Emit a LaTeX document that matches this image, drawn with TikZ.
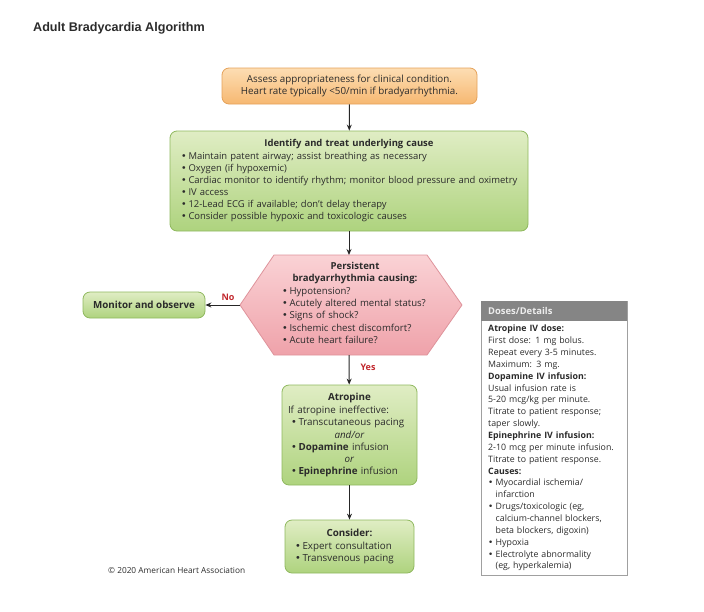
\documentclass[tikz,border=0pt]{standalone}
\usepackage{fontspec}
\setmainfont{Open Sans}
\newfontfamily\titlefont{Liberation Sans}
\newfontfamily\bulfont{DejaVu Sans}
\usetikzlibrary{arrows.meta}
\setlength{\parindent}{0pt}
\definecolor{txt}{HTML}{2B2B2B}
\definecolor{grtop}{HTML}{E0EDC4}
\definecolor{grbot}{HTML}{AED37E}
\definecolor{grline}{HTML}{8FB85E}
\definecolor{ortop}{HTML}{FDDDB3}
\definecolor{orbot}{HTML}{F6B871}
\definecolor{orline}{HTML}{E5A25A}
\definecolor{pktop}{HTML}{FAD2D5}
\definecolor{pkbot}{HTML}{EFA2AA}
\definecolor{pkline}{HTML}{DE939B}
\definecolor{lblred}{HTML}{C1272D}
\definecolor{hdrgray}{HTML}{858585}
\definecolor{hdrtxt}{HTML}{EDEDED}
\definecolor{boxgray}{HTML}{A0A0A0}
\newcommand{\bul}[2][0pt]{\par\hspace*{#1}\makebox[7.5pt][l]{\bulfont •}#2}
\newcommand{\cont}[1]{\par\hspace*{7.5pt}#1}
\tikzset{
  greenbox/.style={draw=grline, line width=0.8pt, rounded corners=7pt, top color=grtop, bottom color=grbot, text=txt},
  orangebox/.style={draw=orline, line width=0.8pt, rounded corners=7pt, top color=ortop, bottom color=orbot, text=txt},
  flow/.style={-{Stealth[length=6pt,width=5pt]}, line width=1pt, draw=black!85},
  lbl/.style={text=lblred, font=\fontsize{9}{11}\selectfont\bfseries},
  body/.style={font=\fontsize{9.8}{12.2}\selectfont}
}
\begin{document}
\begin{tikzpicture}[x=1pt,y=-1pt]
\useasboundingbox (0,0) rectangle (704,611);
\node[anchor=west, text=txt, font=\titlefont\fontsize{12.6}{14}\selectfont\bfseries, inner sep=0pt] (title) at (33,28) {Adult Bradycardia Algorithm};

% orange box
\node[orangebox, minimum width=255pt, minimum height=36pt, align=center, body, inner sep=2pt] (assess) at (349.5,86)
  {Assess appropriateness for clinical condition.\\Heart rate typically <50/min if bradyarrhythmia.};

% green box 1
\node[greenbox, minimum width=358pt, minimum height=100pt, text width=342pt, align=left, font=\fontsize{9.45}{12}\selectfont, inner sep=2pt] (identify) at (349,181)
  {\centering\textbf{Identify and treat underlying cause}\par\vspace{1pt}\raggedright
   \bul[3pt]{Maintain patent airway; assist breathing as necessary}
   \bul[3pt]{Oxygen (if hypoxemic)}
   \bul[3pt]{Cardiac monitor to identify rhythm; monitor blood pressure and oximetry}
   \bul[3pt]{IV access}
   \bul[3pt]{12-Lead ECG if available; don’t delay therapy}
   \bul[3pt]{Consider possible hypoxic and toxicologic causes}};

% hexagon
\coordinate (hexT) at (349,255);
\coordinate (hexB) at (349,355);
\coordinate (hexL) at (240,305);
\shade[draw=pkline, line width=0.8pt, top color=pktop, bottom color=pkbot, line join=round]
  (274,255) -- (427,255) -- (462,305) -- (427,355) -- (274,355) -- (240,305) -- cycle;
\node[text width=146pt, align=left, text=txt, font=\fontsize{9.6}{12.3}\selectfont, inner sep=0pt] (hex) at (355,303)
  {\centering\textbf{Persistent}\\\textbf{bradyarrhythmia causing:}\par\raggedright
   \bul{Hypotension?}
   \bul{Acutely altered mental status?}
   \bul{Signs of shock?}
   \bul{Ischemic chest discomfort?}
   \bul{Acute heart failure?}};

% monitor
\node[greenbox, minimum width=122pt, minimum height=26pt, body, inner sep=2pt] (monitor) at (144,305)
  {\textbf{Monitor and observe}};

% atropine
\node[greenbox, minimum width=135pt, minimum height=100pt, text width=123pt, align=left, font=\fontsize{9.8}{12.3}\selectfont, inner sep=2pt] (atropine) at (349.5,435)
  {\centering\textbf{Atropine}\par\vspace{1pt}\raggedright
   If atropine ineffective:
   \bul[3pt]{Transcutaneous pacing}\par
   {\centering\textit{and/or}\par}\raggedright
   \bul[3pt]{\textbf{Dopamine} infusion}\par
   {\centering\textit{or}\par}\raggedright
   \bul[3pt]{\textbf{Epinephrine} infusion}};

% consider
\node[greenbox, minimum width=129pt, minimum height=53pt, text width=109pt, align=left, font=\fontsize{9.8}{12.3}\selectfont, inner sep=2pt] (consider) at (349.5,546.5)
  {\centering\textbf{Consider:}\par\vspace{1pt}\raggedright
   \bul{Expert consultation}
   \bul{Transvenous pacing}};

% doses/details
\node[draw=boxgray, line width=0.7pt, minimum width=146pt, minimum height=274pt, anchor=north west, inner sep=0pt] (doses) at (481,301) {};
\node[fill=hdrgray, minimum width=146pt, minimum height=20pt, anchor=north west, inner sep=0pt, text width=132pt, align=left, text=hdrtxt, font=\fontsize{9.4}{11}\selectfont\bfseries] (doseshdr) at (doses.north west) {Doses/Details};
\node[anchor=north west, text width=138pt, align=left, text=txt, font=\fontsize{8.8}{11.85}\selectfont, inner sep=0pt] (dosestext) at (488,325)
  {\textbf{Atropine IV dose:}\\
   First dose: 1 mg bolus.\\
   Repeat every 3-5 minutes.\\
   Maximum: 3 mg.\\
   \textbf{Dopamine IV infusion:}\\
   Usual infusion rate is\\
   5-20 mcg/kg per minute.\\
   Titrate to patient response;\\
   taper slowly.\\
   \textbf{Epinephrine IV infusion:}\\
   2-10 mcg per minute infusion.\\
   Titrate to patient response.\\
   \textbf{Causes:}
   \bul{Myocardial ischemia/}\cont{infarction}
   \bul{Drugs/toxicologic (eg,}\cont{calcium-channel blockers,}\cont{beta blockers, digoxin)}
   \bul{Hypoxia}
   \bul{Electrolyte abnormality}\cont{(eg, hyperkalemia)}};

% copyright
\node[anchor=west, text=txt, font=\fontsize{8.3}{10}\selectfont, inner sep=0pt] (copy) at (108,570) {© 2020 American Heart Association};

% connectors
\draw[flow] (assess) -- (identify);
\draw[flow] (identify) -- (hexT);
\draw[flow] (hexL) -- (monitor);
\draw[flow] (hexB) -- (atropine);
\draw[flow] (atropine) -- (consider);
\node[lbl, inner sep=0pt] (no) at (228,297) {No};
\node[lbl, inner sep=0pt] (yes) at (368,367) {Yes};
\end{tikzpicture}
\end{document}
